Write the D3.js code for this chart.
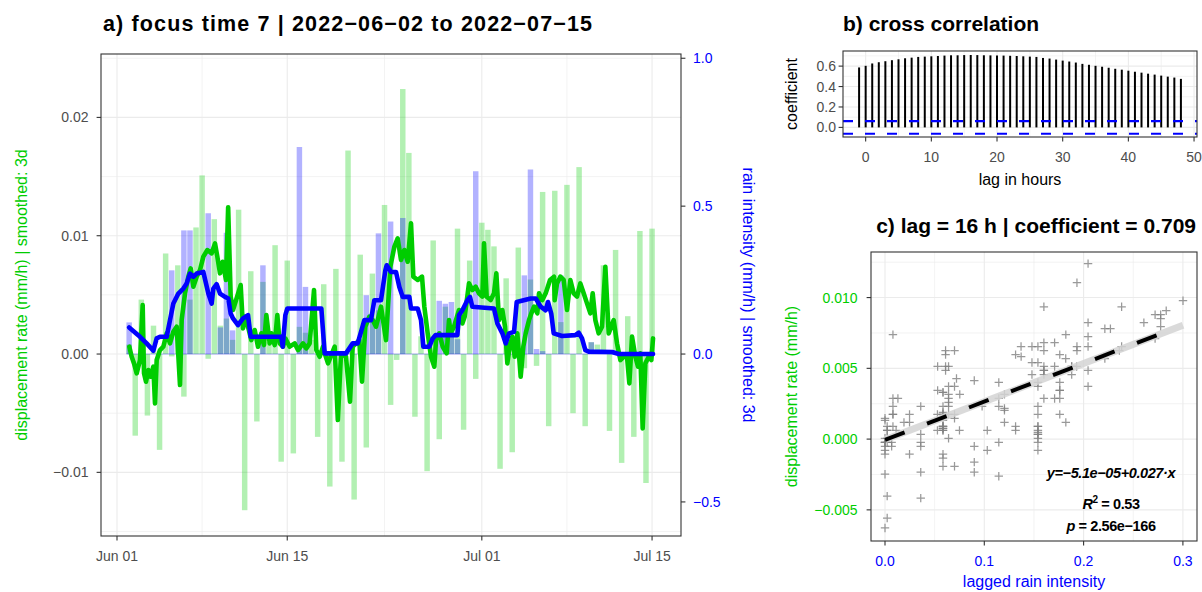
<!DOCTYPE html>
<html><head><meta charset="utf-8">
<script src="https://cdn.jsdelivr.net/npm/d3@7"></script>
<style>
body{margin:0;background:#fff}
svg{display:block}
text{font-family:"Liberation Sans",Arial,Helvetica,sans-serif}
</style></head>
<body><svg id="c" width="1202" height="592"></svg>
<script>
// ---------------- DATA ----------------
// 12-hourly bars, first bar centred on 2022-06-02 00:00 (day 1 after Jun 01)
const BAR_START_DAY = 1, BAR_STEP_DAY = 0.5;
const dispBars = [0.0008,-0.0069,0.0046,-0.0052,0.0024,-0.0081,0.0085,-0.0002,0.0075,-0.0036,
 0.0046,0.0107,0.0151,-0.0004,0.0114,0.0024,0.0030,0.0012,0.0122,-0.0132,
 0.0070,-0.0057,0.0061,0.0010,0.0092,-0.0091,0.0079,-0.0084,0.0023,0.0018,
 0.0012,-0.0070,0.0059,-0.0112,0.0072,-0.0091,0.0172,-0.0123,0.0084,-0.0079,
 0.0068,0.0037,0.0126,-0.0043,-0.0005,0.0224,0.0170,-0.0053,0.0015,-0.0099,
 0.0096,-0.0072,0.0040,0.0023,0.0106,-0.0064,0.0079,-0.0021,0.0111,0.0105,
 0.0091,-0.0097,0.0064,-0.0083,0.0090,-0.0012,0.0063,-0.0010,0.0137,-0.0061,
 0.0138,0.0027,0.0143,-0.0050,0.0158,-0.0061,0.0010,0.0008,0.0075,-0.0065,
 0.0088,-0.0092,0.0032,-0.0070,0.0104,-0.0109,0.0106];
const rainBars = [0.107,0,0,0,0,0,0,0.283,0,0.418,
 0.418,0,0,0.476,0,0.09,0.41,0.08,0,0,
 0,0,0.30,0,0,0,0,0,0.70,0.227,
 0,0,0,0,0,0,0,0,0,0.199,
 0.12,0.408,0,0.448,0,0.46,0,0,0,0,
 0,0.18,0.17,0.176,0.05,0,0,0.618,0,0,
 0,0,0,0,0,0.266,0.624,0.017,0.01,0,
 0,0.266,0,0,0,0,0.04,0,0,0,
 0,0,0,0,0,0,0];
// smoothed displacement rate: [day since 2022-06-01, mm/h]
const greenLine = [[1.014,0.00062],[1.206,-0.00023],[1.398,-0.00079],[1.617,-0.00163],[1.891,-0.00051],[2.111,0.00414],[2.220,-0.00163],[2.385,-0.00234],[2.577,-0.00135],[2.769,-0.00192],[2.988,-0.00107],[3.125,-0.00417],[3.262,-0.00051],[3.536,0.00034],[3.810,0.00062],[4.084,0.00175],[4.359,0.0009],[4.633,0.00189],[4.907,0.00231],[5.181,-0.00262],[5.318,0.00287],[5.592,0.00513],[5.866,0.00654],[6.058,0.00724],[6.277,0.00569],[6.551,0.00654],[6.826,0.0071],[7.100,0.00823],[7.429,0.00879],[7.785,0.00851],[8.059,0.00935],[8.251,0.00823],[8.470,0.00682],[8.690,0.0078],[8.964,0.00626],[9.14,0.0124],[9.348,0.00485],[9.539,0.00372],[10.170,0.00583],[10.362,0.00217],[10.554,0.00316],[10.773,0.00231],[11.047,0.00118],[11.321,0.00203],[11.595,0.00062],[11.869,0.00175],[12.089,0.00076],[12.281,0.0033],[12.555,0.0009],[12.692,0.00175],[12.966,0.00076],[13.185,0.0033],[13.377,0.0009],[13.651,0.00062],[13.843,0.00132],[14.200,0.00062],[14.611,0.0009],[14.885,0.00034],[15.296,0.0009],[15.570,0.00048],[15.844,0.0009],[16.201,0.00541],[16.393,0.00034],[16.667,-0.00023],[16.941,0.00062],[17.078,0.00006],[17.352,-0.00079],[17.900,0.00062],[18.16,-0.00558],[18.421,0.00006],[18.832,-0.00023],[19.161,-0.00403],[19.381,0.00062],[19.655,0.0009],[19.929,0.00118],[20.148,-0.00234],[20.422,0.00231],[20.751,0.00316],[21.025,0.00287],[21.299,0.00231],[21.711,0.004],[22.122,0.00118],[22.478,0.00738],[22.807,0.00907],[23.081,0.00978],[23.355,0.00795],[23.629,0.00879],[23.904,0.0078],[24.178,0.01105],[24.369,0.00654],[24.726,0.00626],[25.082,0.00654],[25.274,0.004],[25.548,0.00175],[25.822,-0.00023],[26.096,-0.00107],[26.234,0.00118],[26.508,0.00175],[26.782,0.00062],[27.111,0.00006],[27.303,0.00287],[27.44,0.00175],[27.714,0.00231],[28.125,0.00372],[28.399,0.00259],[28.591,0.00316],[28.947,0.00597],[29.222,0.00541],[29.496,0.00569],[29.77,0.00513],[30.044,0.00485],[30.181,0.00935],[30.400,0.00485],[30.729,0.00456],[31.003,0.00513],[31.195,0.00682],[31.414,0.00287],[31.689,0.00372],[31.908,0.00231],[32.1,-0.00079],[32.292,0.00062],[32.511,0.00147],[32.703,-0.00023],[32.922,0.00175],[33.196,-0.00192],[33.415,0.00062],[33.608,0.00175],[33.882,0.00287],[34.073,0.00344],[34.293,0.004],[34.567,0.00344],[34.704,0.00513],[34.978,0.00456],[35.252,0.00513],[35.609,0.00626],[35.938,0.00654],[35.992,0.00456],[36.184,0.00597],[36.458,0.00654],[36.732,0.00626],[37.007,0.00372],[37.281,0.00626],[37.555,0.00513],[37.829,0.00485],[38.103,0.00597],[38.377,0.00513],[38.651,0.00428],[38.925,0.00344],[39.117,0.00513],[39.337,0.00287],[39.611,0.00175],[39.885,0.00231],[40.159,0.00738],[40.433,0.00175],[40.844,0.00287],[41.118,0.0009],[41.393,-0.00051],[41.667,-0.00023],[41.941,-0.00023],[42.133,-0.00248],[42.352,0.00147],[42.626,-0.00023],[42.845,-0.00107],[43.037,0.00006],[43.229,-0.00628],[43.448,-0.00079],[43.723,-0.00023],[43.942,-0.00051],[44.08,0.00132]];
// smoothed rain intensity: [day since 2022-06-01, mm/h]
const blueLine = [[1.0,0.0899],[1.891,0.0584],[2.439,0.036],[2.988,0.0112],[3.262,0.0528],[3.536,0.0584],[4.084,0.0584],[4.359,0.1146],[4.633,0.1708],[5.044,0.2045],[5.455,0.2214],[5.729,0.2383],[6.003,0.272],[6.277,0.2607],[6.551,0.272],[7.100,0.2776],[7.319,0.2383],[7.511,0.2045],[7.785,0.1708],[7.922,0.2214],[8.196,0.236],[8.470,0.2045],[8.881,0.1933],[9.156,0.1877],[9.347,0.1371],[9.539,0.1203],[9.950,0.0978],[10.362,0.1203],[10.773,0.1315],[10.992,0.0584],[13.514,0.0584],[13.624,0.0247],[13.843,0.1315],[14.008,0.154],[16.804,0.154],[17.078,0.0022],[18.832,0.0022],[19.106,0.0191],[19.381,0.036],[19.792,0.036],[20.066,0.0753],[20.340,0.1146],[20.888,0.1146],[21.162,0.1821],[21.711,0.1821],[22.067,0.2832],[22.177,0.3001],[22.533,0.2776],[22.944,0.2776],[23.218,0.227],[23.492,0.1933],[24.041,0.1933],[24.178,0.154],[24.726,0.154],[25.000,0.1146],[25.192,0.0247],[25.685,0.0247],[25.959,0.0528],[26.2,0.064],[27.99,0.064],[28.125,0.1315],[28.399,0.148],[28.81,0.182],[29.03,0.193],[29.22,0.16],[31.0,0.154],[31.28,0.103],[31.69,0.07],[31.96,0.036],[32.24,0.07],[32.65,0.075],[32.87,0.176],[34.02,0.188],[34.43,0.188],[34.84,0.16],[35.25,0.148],[35.44,0.176],[35.71,0.137],[35.91,0.07],[36.6,0.061],[37.69,0.064],[37.97,0.072],[38.24,0.053],[38.51,0.013],[38.79,0.008],[40.71,0.0067],[41.26,0],[44.08,0]];
const RAIN_FACTOR = 40;
const dispTicks = [-0.01, 0, 0.01, 0.02];
const rainTicks = [-0.5, 0, 0.5, 1.0];
const dateTicks = ["2022-06-01","2022-06-15","2022-07-01","2022-07-15"];
const dateMinor = ["2022-06-08","2022-06-23","2022-07-08"];

// cross correlation
const ccfLags = d3.range(-1, 49);
const ccfValues = [0.587,0.603,0.626,0.638,0.648,0.658,0.667,0.677,0.683,0.690,0.693,0.696,0.699,0.703,0.706,0.706,0.708,0.709,0.708,0.706,0.705,0.704,0.703,0.701,0.699,0.696,0.693,0.690,0.680,0.674,0.664,0.654,0.645,0.635,0.622,0.613,0.603,0.594,0.584,0.574,0.565,0.555,0.545,0.536,0.526,0.517,0.507,0.497,0.488,0.475];
const ccfBound = 0.062;
const ccfXTicks = [0,10,20,30,40,50];
const ccfYTicks = [0,0.2,0.4,0.6];

// regression
const BEST_LAG_H = 16;
const fitIntercept = -5.1e-05, fitSlope = 0.027;
const scXTicks = [0,0.1,0.2,0.3];
const scYTicks = [-0.005,0,0.005,0.01];

// ---------------- DRAW ----------------
const svg = d3.select("#c");
const GREEN="#00CD00", BLUE="#0000FF", GRID="#EBEBEB", AX="#333333", TXT="#4D4D4D";
const TICK=14, TITLE=16;
const defs = svg.append("defs");
function clip(id, b){ defs.append("clipPath").attr("id",id).append("rect").attr("x",b.l).attr("y",b.t).attr("width",b.r-b.l).attr("height",b.b-b.t); }
function gridlines(g, b, xs, ys, w){
  g.selectAll(null).data(xs).join("line").attr("x1",d=>d).attr("x2",d=>d).attr("y1",b.t).attr("y2",b.b).attr("stroke",GRID).attr("stroke-width",w);
  g.selectAll(null).data(ys).join("line").attr("y1",d=>d).attr("y2",d=>d).attr("x1",b.l).attr("x2",b.r).attr("stroke",GRID).attr("stroke-width",w);
}
function frame(b){ svg.append("rect").attr("x",b.l).attr("y",b.t).attr("width",b.r-b.l).attr("height",b.b-b.t).attr("fill","none").attr("stroke",AX).attr("stroke-width",1.1); }
function leftAxis(b, ys, labels, color, labX){
  const g = svg.append("g");
  g.selectAll(null).data(ys).join("line").attr("x1",b.l-4.4).attr("x2",b.l).attr("y1",d=>d).attr("y2",d=>d).attr("stroke",AX).attr("stroke-width",1.1);
  g.selectAll(null).data(ys).join("text").attr("x",labX).attr("y",d=>d).attr("dy","0.36em").attr("text-anchor","end")
    .attr("font-size",TICK).attr("fill",color).text((d,i)=>labels[i]);
}
function bottomAxis(b, xs, labels, color){
  const g = svg.append("g");
  g.selectAll(null).data(xs).join("line").attr("x1",d=>d).attr("x2",d=>d).attr("y1",b.b).attr("y2",b.b+4.4).attr("stroke",AX).attr("stroke-width",1.1);
  g.selectAll(null).data(xs).join("text").attr("x",d=>d).attr("y",b.b+24.5).attr("text-anchor","middle")
    .attr("font-size",TICK).attr("fill",color).text((d,i)=>labels[i]);
}

// ===== Panel a =====
const A = {l:101, r:681, t:54, b:536};
const parseDay = d3.timeParse("%Y-%m-%d");
const origin = parseDay("2022-06-01");
const toDate = d => new Date(origin.getTime() + d*864e5);
const xA = d3.scaleTime().domain([toDate(-1.316), toDate(46.38)]).range([A.l, A.r]);
const yA = d3.scaleLinear().domain([-0.01538, 0.02536]).range([A.b, A.t]);
const yR = d3.scaleLinear().domain(yA.domain().map(v=>v*RAIN_FACTOR)).range([A.b, A.t]);
clip("clipA", A);
const gridA = svg.append("g");
gridlines(gridA, A, dateMinor.map(s=>xA(parseDay(s))), [-0.015,-0.005,0.005,0.015,0.025].map(yA), 0.6);
gridlines(gridA, A, dateTicks.map(s=>xA(parseDay(s))), dispTicks.map(yA), 1.1);

const gA = svg.append("g").attr("clip-path","url(#clipA)");
const barX0 = k => xA(toDate(BAR_START_DAY + k*BAR_STEP_DAY - 0.45*BAR_STEP_DAY));
const barX1 = k => xA(toDate(BAR_START_DAY + k*BAR_STEP_DAY + 0.45*BAR_STEP_DAY));
gA.selectAll("rect.gb").data(dispBars).join("rect").attr("class","gb")
  .attr("x",(v,k)=>barX0(k)).attr("width",(v,k)=>barX1(k)-barX0(k))
  .attr("y",v=>yA(Math.max(0,v))).attr("height",v=>Math.abs(yA(v)-yA(0)))
  .attr("fill",GREEN).attr("fill-opacity",0.3);
gA.append("line").attr("x1",barX0(0)).attr("x2",barX1(rainBars.length-1)).attr("y1",yR(0)).attr("y2",yR(0))
  .attr("stroke",BLUE).attr("stroke-opacity",0.3).attr("stroke-width",1);
gA.selectAll("rect.bb").data(rainBars).join("rect").attr("class","bb")
  .attr("x",(v,k)=>barX0(k)).attr("width",(v,k)=>barX1(k)-barX0(k))
  .attr("y",v=>yR(v)).attr("height",v=>yR(0)-yR(v))
  .attr("fill",BLUE).attr("fill-opacity",0.3);
gA.append("path").datum(greenLine).attr("d",d3.line().x(p=>xA(toDate(p[0]))).y(p=>yA(p[1])))
  .attr("fill","none").attr("stroke",GREEN).attr("stroke-width",4.6).attr("stroke-linejoin","round").attr("stroke-linecap","round");
gA.append("path").datum(blueLine).attr("d",d3.line().x(p=>xA(toDate(p[0]))).y(p=>yR(p[1])))
  .attr("fill","none").attr("stroke",BLUE).attr("stroke-width",4.6).attr("stroke-linejoin","round").attr("stroke-linecap","round");
frame(A);
const fmt2 = d3.format(".2f"), fmt1 = d3.format(".1f");
leftAxis(A, dispTicks.map(yA), dispTicks.map(fmt2), TXT, A.l-12.5);
// right axis
const gR = svg.append("g");
gR.selectAll(null).data(rainTicks).join("line").attr("x1",A.r).attr("x2",A.r+4.4).attr("y1",d=>yR(d)).attr("y2",d=>yR(d)).attr("stroke",AX).attr("stroke-width",1.1);
gR.selectAll(null).data(rainTicks).join("text").attr("x",A.r+12).attr("y",d=>yR(d)).attr("dy","0.36em")
  .attr("font-size",TICK).attr("fill",BLUE).text(d=>fmt1(d));
const fmtDate = d3.timeFormat("%b %d");
bottomAxis(A, dateTicks.map(s=>xA(parseDay(s))), dateTicks.map(s=>fmtDate(parseDay(s))), TXT);
svg.append("text").attr("transform",`translate(27,${(A.t+A.b)/2}) rotate(-90)`).attr("text-anchor","middle")
  .attr("font-size",TITLE).attr("fill",GREEN).text("displacement rate (mm/h) | smoothed: 3d");
svg.append("text").attr("transform",`translate(743,${(A.t+A.b)/2}) rotate(90)`).attr("text-anchor","middle")
  .attr("font-size",TITLE).attr("fill",BLUE).text("rain intensity (mm/h) | smoothed: 3d");
svg.append("text").attr("x",103).attr("y",31).attr("font-size",21.5).attr("font-weight","bold")
  .attr("textLength",489).attr("lengthAdjust","spacing")
  .text("a) focus time 7 | 2022\u221206\u221202 to 2022\u221207\u221215");

// ===== Panel b =====
const B = {l:843, r:1197, t:51, b:137};
const xB = d3.scaleLinear().domain([-3.45, 50.45]).range([B.l, B.r]);
const yB = d3.scaleLinear().domain([-0.094, 0.748]).range([B.b, B.t]);
clip("clipB", B);
const gridB = svg.append("g");
gridlines(gridB, B, [5,15,25,35,45].map(xB), [0.1,0.3,0.5,0.7].map(yB), 0.6);
gridlines(gridB, B, ccfXTicks.map(xB), ccfYTicks.map(yB), 1.1);
const gB = svg.append("g").attr("clip-path","url(#clipB)");
gB.selectAll(null).data(ccfValues).join("line")
  .attr("x1",(v,i)=>xB(ccfLags[i])).attr("x2",(v,i)=>xB(ccfLags[i]))
  .attr("y1",yB(0)).attr("y2",v=>yB(v)).attr("stroke","#000").attr("stroke-width",2);
gB.selectAll(null).data([ccfBound,-ccfBound]).join("line").attr("x1",B.l).attr("x2",B.r)
  .attr("y1",d=>yB(d)).attr("y2",d=>yB(d)).attr("stroke",BLUE).attr("stroke-width",2.2).attr("stroke-dasharray","10,12");
frame(B);
leftAxis(B, ccfYTicks.map(yB), ccfYTicks.map(fmt1), TXT, B.l-7);
bottomAxis(B, ccfXTicks.map(xB), ccfXTicks.map(String), TXT);
svg.append("text").attr("transform",`translate(797,${(B.t+B.b)/2}) rotate(-90)`).attr("text-anchor","middle")
  .attr("font-size",TITLE).attr("fill","#000").text("coefficient");
svg.append("text").attr("x",(B.l+B.r)/2).attr("y",185).attr("text-anchor","middle")
  .attr("font-size",TITLE).attr("fill","#000").text("lag in hours");
svg.append("text").attr("x",843).attr("y",31).attr("font-size",21).attr("font-weight","bold").text("b) cross correlation");

// ===== Panel c =====
const C = {l:871, r:1197, t:252, b:541};
const xC = d3.scaleLinear().domain([-0.0141, 0.3142]).range([C.l, C.r]);
const yC = d3.scaleLinear().domain([-0.0072, 0.01322]).range([C.b, C.t]);
clip("clipC", C);
const gridC = svg.append("g");
gridlines(gridC, C, [0.05,0.15,0.25].map(xC), [-0.0025,0.0025,0.0075,0.0125].map(yC), 0.6);
gridlines(gridC, C, scXTicks.map(xC), scYTicks.map(yC), 1.1);
const gC = svg.append("g").attr("clip-path","url(#clipC)");
// pairs: rain (lagged by BEST_LAG_H) vs displacement
const lagDays = BEST_LAG_H/24;
const bis = d3.bisector(p=>p[0]).right;
const pairs = greenLine.map(p=>{ const i = bis(blueLine, p[0]-lagDays)-1; return i<0?null:[blueLine[i][1], p[1]]; }).filter(Boolean);
gC.selectAll(null).data(pairs).join("path")
  .attr("d",p=>{const x=xC(p[0]), y=yC(p[1]); return `M${x-4.2},${y}h8.4M${x},${y-4.2}v8.4`;})
  .attr("stroke","#7F7F7F").attr("stroke-opacity",0.8).attr("stroke-width",1.25).attr("fill","none");
const fitX = d3.extent(pairs, p=>p[0]);
gC.append("line").attr("x1",xC(fitX[0])).attr("x2",xC(fitX[1]))
  .attr("y1",yC(fitIntercept+fitSlope*fitX[0])).attr("y2",yC(fitIntercept+fitSlope*fitX[1]))
  .attr("stroke","#D4D4D4").attr("stroke-opacity",0.85).attr("stroke-width",7);
const dashEnd = 0.28;
gC.append("line").attr("x1",xC(0)).attr("x2",xC(dashEnd))
  .attr("y1",yC(fitIntercept)).attr("y2",yC(fitIntercept+fitSlope*dashEnd))
  .attr("stroke","#000").attr("stroke-width",4).attr("stroke-dasharray","21,24");
frame(C);
leftAxis(C, scYTicks.map(yC), scYTicks.map(d3.format(".3f")), GREEN, C.l-13.5);
bottomAxis(C, scXTicks.map(xC), scXTicks.map(fmt1), BLUE);
svg.append("text").attr("transform",`translate(797,${(C.t+C.b)/2}) rotate(-90)`).attr("text-anchor","middle")
  .attr("font-size",TITLE).attr("fill",GREEN).text("displacement rate (mm/h)");
svg.append("text").attr("x",(C.l+C.r)/2).attr("y",587).attr("text-anchor","middle")
  .attr("font-size",TITLE).attr("fill",BLUE).text("lagged rain intensity");
svg.append("text").attr("x",1196).attr("y",233).attr("text-anchor","end").attr("font-size",21).attr("font-weight","bold")
  .text("c) lag = 16 h | coefficient = 0.709");
// annotations
const ann = svg.append("g").attr("font-size",14.5).attr("font-weight","bold").attr("letter-spacing","-0.4").attr("text-anchor","middle");
ann.append("text").attr("x",1111).attr("y",478).attr("font-style","italic").text("y=\u22125.1e\u221205+0.027\u00b7x");
const r2 = ann.append("text").attr("x",1111).attr("y",509);
r2.append("tspan").attr("font-style","italic").text("R");
r2.append("tspan").attr("dy",-6).attr("font-size",10).text("2");
r2.append("tspan").attr("dy",6).text(" = 0.53");
const pv = ann.append("text").attr("x",1111).attr("y",531);
pv.append("tspan").attr("font-style","italic").text("p");
pv.append("tspan").text(" =  2.56e\u2212166");
</script></body></html>
